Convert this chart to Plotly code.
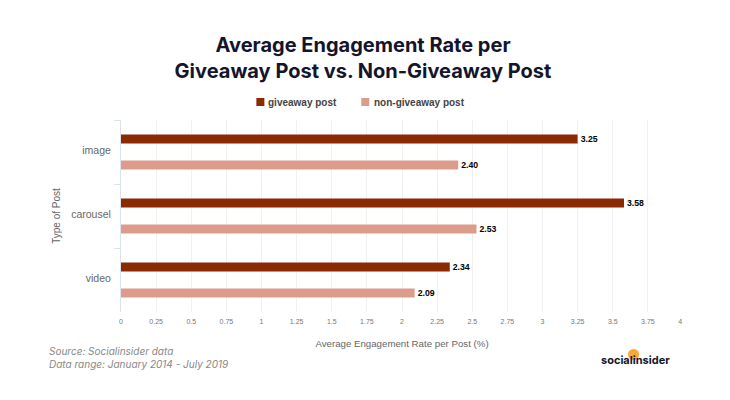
# Average engagement rate: giveaway vs non-giveaway posts
import plotly.graph_objects as go

# --- data ---
categories = ["image", "carousel", "video"]
series_names = ["giveaway post", "non-giveaway post"]
giveaway = [3.25, 3.58, 2.34]
non_giveaway = [2.40, 2.53, 2.09]
x_ticks = [0, 0.25, 0.5, 0.75, 1, 1.25, 1.5, 1.75, 2, 2.25, 2.5, 2.75, 3, 3.25, 3.5, 3.75, 4]
# trailing nbsp pulls the last label left of its gridline, as in the original
x_tick_labels = ["0", "0.25", "0.5", "0.75", "1", "1.25", "1.5", "1.75", "2", "2.25", "2.5",
                 "2.75", "3", "3.25", "3.5", "3.75", "4\u00a0\u00a0\u00a0"]

# --- colours / fonts ---
DARK = "#8B2900"
LIGHT = "#DB9C8B"
SANS = "Liberation Sans"
TITLE_FONT = "Inter"

# page body adds 8px around the figure, so everything is laid out 8px smaller
PAGE_OFFSET = 8
PLOT_LEFT, PLOT_TOP, PLOT_W, PLOT_H = 120.5, 120, 562.5, 192


def px(x):
    return (x - PLOT_LEFT) / PLOT_W


def py(y):
    return (PLOT_TOP + PLOT_H - y) / PLOT_H


fig = go.Figure()
for name, values, color in zip(series_names, [giveaway, non_giveaway], [DARK, LIGHT]):
    fig.add_trace(
        go.Bar(
            name=name,
            y=categories,
            x=values,
            orientation="h",
            marker=dict(color=color, line=dict(width=0)),
            text=[f"{v:.2f}" for v in values],
            textposition="outside",
            constraintext="none",
            cliponaxis=False,
            textfont=dict(family=SANS, size=8.7, color="#000000", weight="bold"),
            showlegend=False,
        )
    )

fig.update_layout(
    width=730 - PAGE_OFFSET,
    height=400 - PAGE_OFFSET,
    paper_bgcolor="#ffffff",
    plot_bgcolor="#ffffff",
    margin=dict(l=PLOT_LEFT - PAGE_OFFSET, r=47, t=PLOT_TOP - PAGE_OFFSET, b=88),
    barmode="group",
    bargap=0.1875,
    bargroupgap=0.654,
    title=dict(
        text="<b>Average Engagement Rate per<br>Giveaway Post vs. Non-Giveaway Post</b>",
        x=(363 - PAGE_OFFSET) / (730 - PAGE_OFFSET),
        xanchor="center",
        y=0.887,
        yanchor="top",
        font=dict(family=TITLE_FONT, size=20, color="#14142b"),
    ),
    xaxis=dict(
        range=[0, 4],
        tickvals=x_ticks,
        ticktext=x_tick_labels,
        tickfont=dict(family=SANS, size=7, color="#777777"),
        ticklabelstandoff=4,
        showgrid=True,
        gridcolor="#f0f0f0",
        gridwidth=1,
        zeroline=False,
        ticks="",
        title=dict(
            text="Average Engagement Rate per Post (%)",
            font=dict(family=SANS, size=9.7, color="#666666"),
            standoff=16,
        ),
    ),
    yaxis=dict(
        autorange="reversed",
        tickson="boundaries",
        ticks="outside",
        ticklen=6,
        tickcolor="#dbe3f2",
        ticklabelstandoff=7,
        ticklabelshift=2,
        showline=True,
        linecolor="#dbe3f2",
        linewidth=1,
        showgrid=False,
        zeroline=False,
        tickfont=dict(family=SANS, size=10.5, color="#666666"),
        title=dict(
            text="Type of Post",
            font=dict(family=SANS, size=10, color="#666666"),
            standoff=8,
        ),
    ),
)

# legend row above the plot: small square + label
for name, color, x_swatch, x_text in zip(series_names, [DARK, LIGHT], [256, 361], [268, 374]):
    fig.add_shape(
        type="rect",
        xref="paper",
        yref="paper",
        x0=px(x_swatch),
        x1=px(x_swatch + 8),
        y0=py(106),
        y1=py(98),
        fillcolor=color,
        line=dict(width=0),
    )
    fig.add_annotation(
        text=f"<b>{name}</b>",
        xref="paper",
        yref="paper",
        x=px(x_text - 2),
        y=py(102),
        xanchor="left",
        yanchor="middle",
        showarrow=False,
        font=dict(family=SANS, size=10, color="#444444"),
    )

# source notes
for text, ypos in [("Source: Socialinsider data", 351), ("Data range: January 2014 - July 2019", 364)]:
    fig.add_annotation(
        text=f"<i>{text}</i>",
        xref="paper",
        yref="paper",
        x=px(46),
        y=py(ypos),
        xanchor="left",
        yanchor="middle",
        showarrow=False,
        font=dict(family=TITLE_FONT, size=10, color="#888888"),
    )

# logo: orange dot behind the wordmark
fig.add_shape(
    type="circle",
    xref="paper",
    yref="paper",
    x0=px(628),
    x1=px(639),
    y0=py(360),
    y1=py(349),
    fillcolor="#F9A833",
    line=dict(width=0),
)
fig.add_annotation(
    text="<b>socialinsider</b>",
    xref="paper",
    yref="paper",
    x=px(635),
    y=py(360),
    xanchor="center",
    yanchor="middle",
    showarrow=False,
    font=dict(family=TITLE_FONT, size=11, color="#14142b"),
)

fig.write_html("out.html")
